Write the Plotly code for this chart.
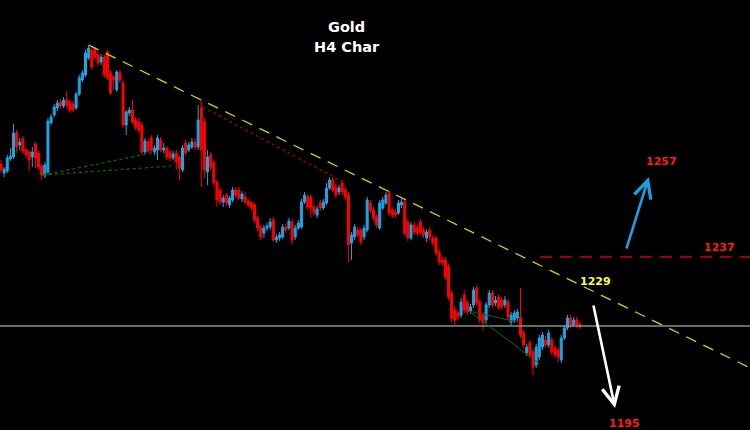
import plotly.graph_objects as go

# ---------------- data (Gold, H4) ----------------
opens = [
1260.25, 1258.0, 1258.5, 1261.5, 1262.0, 1268.0, 1265.0, 1266.5, 1263.75, 1263.25,
1262.0, 1265.25, 1263.0, 1259.75, 1257.25, 1258.25, 1270.5, 1272.5, 1274.25, 1275.75,
1274.75, 1276.25, 1275.75, 1275.25, 1274.25, 1277.75, 1281.25, 1282.5, 1286.75, 1288.75,
1289.0, 1287.5, 1285.75, 1287.0, 1288.25, 1283.0, 1282.0, 1278.75, 1283.0, 1280.5,
1270.0, 1273.0, 1273.75, 1271.25, 1270.75, 1270.0, 1263.25, 1265.75, 1266.75, 1263.25,
1263.75, 1266.25, 1263.75, 1264.25, 1263.25, 1261.75, 1263.0, 1262.0, 1258.75, 1265.5,
1263.75, 1264.5, 1265.75, 1264.5, 1274.25, 1270.75, 1258.25, 1262.5, 1260.5, 1255.75,
1253.75, 1250.75, 1252.5, 1250.0, 1251.25, 1253.75, 1253.75, 1251.5, 1252.0, 1251.0,
1250.5, 1250.0, 1246.75, 1244.5, 1243.0, 1244.25, 1244.5, 1246.25, 1241.25, 1241.75,
1242.0, 1244.5, 1244.25, 1245.75, 1242.0, 1244.25, 1244.5, 1250.75, 1252.0, 1252.0,
1249.5, 1247.5, 1250.5, 1249.25, 1250.5, 1254.25, 1256.25, 1254.5, 1253.25, 1255.5,
1253.75, 1252.5, 1240.5, 1242.0, 1243.75, 1243.75, 1242.0, 1243.75, 1250.5, 1248.75,
1247.0, 1244.25, 1249.25, 1250.5, 1253.0, 1248.75, 1248.25, 1248.0, 1250.0, 1250.75,
1245.75, 1241.75, 1245.0, 1244.25, 1245.75, 1243.75, 1241.75, 1243.75, 1241.75, 1241.75,
1238.25, 1236.25, 1236.25, 1234.5, 1228.0, 1223.75, 1223.0, 1222.5, 1227.5, 1225.5,
1223.5, 1225.0, 1229.25, 1225.75, 1222.5, 1221.25, 1225.0, 1228.0, 1225.5, 1227.0,
1226.25, 1225.0, 1225.75, 1220.75, 1221.25, 1221.75, 1222.0, 1218.0, 1213.0, 1215.5,
1213.25, 1210.0, 1212.0, 1214.5, 1216.25, 1215.0, 1216.25, 1214.25, 1213.75, 1211.25,
1216.75, 1219.25, 1221.75, 1220.0, 1221.25, 1220.25,
]
highs = [
1261.25, 1259.5, 1262.5, 1264.25, 1270.25, 1268.75, 1266.75, 1267.25, 1264.25, 1263.75,
1264.5, 1265.75, 1263.5, 1260.25, 1260.75, 1271.75, 1272.75, 1275.25, 1276.25, 1276.5,
1277.0, 1278.5, 1276.25, 1276.0, 1278.25, 1282.5, 1283.75, 1288.75, 1290.0, 1289.5,
1289.5, 1288.25, 1287.75, 1287.5, 1288.75, 1283.75, 1282.5, 1283.75, 1283.75, 1281.25,
1273.75, 1274.5, 1276.25, 1272.0, 1271.75, 1270.75, 1266.75, 1266.5, 1267.5, 1265.0,
1267.5, 1267.0, 1265.5, 1264.75, 1263.75, 1263.5, 1263.75, 1262.5, 1265.0, 1266.25,
1265.75, 1266.75, 1266.5, 1275.0, 1276.25, 1271.75, 1263.75, 1263.25, 1261.25, 1256.25,
1254.5, 1252.5, 1253.0, 1252.25, 1254.5, 1254.25, 1254.5, 1253.5, 1253.25, 1251.5,
1251.0, 1250.5, 1247.25, 1245.0, 1245.0, 1245.5, 1246.75, 1247.0, 1242.75, 1243.25,
1245.25, 1245.25, 1246.75, 1246.5, 1245.0, 1246.25, 1251.5, 1253.25, 1252.75, 1252.5,
1250.0, 1249.75, 1251.25, 1251.5, 1255.5, 1257.0, 1257.0, 1255.25, 1255.0, 1256.25,
1254.5, 1253.25, 1243.25, 1245.25, 1244.5, 1244.25, 1245.0, 1252.0, 1251.25, 1249.5,
1247.75, 1251.25, 1252.0, 1253.25, 1253.75, 1249.5, 1249.0, 1251.25, 1251.5, 1251.5,
1246.5, 1245.75, 1245.75, 1245.0, 1246.5, 1244.5, 1244.0, 1244.5, 1242.5, 1242.25,
1239.0, 1237.0, 1237.0, 1235.25, 1228.75, 1224.75, 1223.75, 1226.75, 1228.75, 1226.25,
1225.25, 1229.5, 1230.0, 1226.5, 1223.25, 1225.75, 1228.75, 1228.75, 1227.25, 1227.75,
1227.0, 1227.25, 1226.5, 1223.25, 1223.75, 1224.0, 1229.25, 1218.75, 1215.25, 1216.25,
1214.0, 1215.25, 1217.5, 1218.25, 1217.25, 1218.75, 1217.0, 1215.0, 1214.5, 1217.5,
1220.0, 1222.5, 1222.5, 1222.0, 1222.0, 1220.75,
]
lows = [
1258.0, 1257.0, 1258.0, 1261.0, 1261.5, 1263.0, 1263.75, 1262.75, 1261.75, 1258.5,
1259.5, 1259.25, 1258.75, 1256.25, 1256.75, 1257.75, 1270.0, 1272.0, 1273.5, 1274.0,
1274.25, 1274.25, 1273.0, 1273.25, 1273.75, 1277.25, 1280.75, 1282.0, 1286.25, 1283.75,
1286.25, 1284.75, 1285.0, 1281.75, 1281.25, 1277.5, 1278.75, 1278.25, 1280.5, 1269.25,
1267.5, 1272.25, 1270.25, 1268.75, 1268.0, 1262.5, 1262.75, 1263.0, 1263.0, 1262.5,
1261.25, 1263.25, 1263.0, 1261.25, 1261.0, 1261.25, 1258.75, 1256.25, 1258.25, 1262.25,
1263.25, 1264.0, 1263.75, 1263.75, 1254.5, 1256.75, 1255.0, 1258.75, 1254.75, 1249.5,
1250.0, 1249.5, 1249.75, 1249.25, 1250.75, 1251.75, 1251.25, 1250.75, 1250.25, 1249.5,
1248.75, 1245.5, 1243.5, 1241.25, 1241.75, 1243.5, 1243.75, 1240.75, 1240.5, 1241.0,
1241.5, 1243.0, 1243.75, 1240.0, 1241.25, 1243.75, 1244.0, 1250.25, 1248.75, 1247.0,
1247.25, 1246.75, 1248.5, 1248.75, 1250.0, 1253.75, 1253.25, 1251.75, 1252.5, 1252.5,
1251.25, 1235.75, 1236.25, 1241.25, 1241.75, 1240.0, 1241.25, 1243.25, 1248.0, 1246.0,
1244.25, 1243.75, 1248.75, 1250.0, 1247.25, 1246.75, 1246.75, 1247.5, 1249.25, 1242.25,
1241.0, 1241.25, 1242.5, 1242.25, 1242.5, 1241.75, 1240.75, 1241.25, 1239.75, 1237.25,
1235.0, 1234.75, 1231.25, 1226.25, 1220.75, 1220.0, 1221.25, 1221.75, 1223.0, 1222.5,
1222.75, 1224.25, 1224.75, 1220.5, 1218.75, 1220.5, 1224.25, 1224.25, 1224.75, 1223.75,
1223.75, 1224.25, 1221.25, 1220.0, 1220.5, 1221.0, 1216.75, 1214.25, 1212.25, 1211.75,
1207.5, 1209.25, 1211.25, 1213.75, 1214.25, 1214.25, 1212.5, 1211.75, 1210.75, 1210.5,
1216.25, 1218.75, 1219.25, 1219.5, 1219.25, 1219.0,
]
closes = [
1258.75, 1259.0, 1261.75, 1262.25, 1268.0, 1264.5, 1265.75, 1263.5, 1262.5, 1261.25,
1263.25, 1261.75, 1259.5, 1257.5, 1260.0, 1271.0, 1272.0, 1274.5, 1275.5, 1274.75,
1276.25, 1275.0, 1273.75, 1273.75, 1277.75, 1281.75, 1283.0, 1288.0, 1289.25, 1284.5,
1287.0, 1285.5, 1287.0, 1282.5, 1282.0, 1278.0, 1281.25, 1283.25, 1281.25, 1270.0,
1273.25, 1273.75, 1270.75, 1269.5, 1268.75, 1263.25, 1266.0, 1263.5, 1263.75, 1264.25,
1266.75, 1263.75, 1264.25, 1262.0, 1261.75, 1262.75, 1260.75, 1259.25, 1264.25, 1263.0,
1265.0, 1265.75, 1264.5, 1271.25, 1263.75, 1258.75, 1262.0, 1259.5, 1255.5, 1251.25,
1250.75, 1251.75, 1250.5, 1251.75, 1253.75, 1252.5, 1251.75, 1252.75, 1250.75, 1250.0,
1249.25, 1246.25, 1244.25, 1242.0, 1244.25, 1244.75, 1245.75, 1241.25, 1242.0, 1242.5,
1244.5, 1243.75, 1246.0, 1241.25, 1244.25, 1245.5, 1250.75, 1252.5, 1249.5, 1249.25,
1248.0, 1249.0, 1249.25, 1250.75, 1254.25, 1256.25, 1253.75, 1252.5, 1254.25, 1253.25,
1252.0, 1240.0, 1242.5, 1244.5, 1242.5, 1240.75, 1244.25, 1251.25, 1248.75, 1246.75,
1245.0, 1250.5, 1251.25, 1252.5, 1248.0, 1247.5, 1247.5, 1250.5, 1250.75, 1243.0,
1241.75, 1245.0, 1243.25, 1243.0, 1243.25, 1242.5, 1243.25, 1242.0, 1240.5, 1238.0,
1235.75, 1235.5, 1232.0, 1227.0, 1221.75, 1221.25, 1222.0, 1225.75, 1223.75, 1223.25,
1224.5, 1228.75, 1225.5, 1221.25, 1220.5, 1225.0, 1228.0, 1225.0, 1226.25, 1224.5,
1224.5, 1226.25, 1222.0, 1222.5, 1223.0, 1223.25, 1217.5, 1215.0, 1214.5, 1212.5,
1209.5, 1214.5, 1216.75, 1217.5, 1215.0, 1218.0, 1213.25, 1212.5, 1212.0, 1216.75,
1219.25, 1221.75, 1220.0, 1221.25, 1220.0, 1219.5,
]
bars = list(range(len(closes)))

# drawn objects (bar index, price)
trend_anchor_bars = [28, 64]            # yellow resistance line anchors (candle highs)
red_dotted_x = [64.5, 109.9]
red_dotted_y = [1274.5, 1255.5]
green_dot_start = (13.4, 1257.5)
green_dot_ends = [(49.8, 1263.25), (54.6, 1259.75)]
green_solid_start = (149.5, 1223.5)
green_solid_ends = [(164.9, 1220.75), (172.2, 1210.25)]
current_price = 1219.75
level_1237 = 1237.0
level_1237_start = 172.2
up_arrow = {"tail": (199.7, 1238.75), "tip": (207.0, 1257.0)}
down_arrow = {"tail": (189.2, 1225.25), "tip": (196.2, 1199.25)}
labels = [
    ("1257", 210.9, 1261.0, "#ff1a1a"),
    ("1237", 229.7, 1239.5, "#ff1a1a"),
    ("1229", 189.8, 1231.0, "#ffff33"),
    ("1195", 199.1, 1195.5, "#ff1a1a"),
]

X_RANGE = [-0.32, 239.32]
Y_RANGE = [1193.75, 1301.25]

BLUE = "#1ea4e6"
RED = "#ff0000"

fig = go.Figure()
fig.add_trace(go.Candlestick(
    x=bars, open=opens, high=highs, low=lows, close=closes,
    increasing=dict(line=dict(color=BLUE, width=1), fillcolor=BLUE),
    decreasing=dict(line=dict(color=RED, width=1), fillcolor=RED),
    whiskerwidth=0, hoverinfo="skip",
))

shapes = []
# grey current price line
shapes.append(dict(type="line", xref="paper", x0=0, x1=1, yref="y",
                   y0=current_price, y1=current_price,
                   line=dict(color="#8c8c8c", width=1.5)))
# yellow trend line
b0, b1 = trend_anchor_bars
slope = (highs[b1] - highs[b0]) / (b1 - b0)
y_end = highs[b0] + slope * (X_RANGE[1] - b0)
shapes.append(dict(type="line", x0=b0, y0=highs[b0], x1=X_RANGE[1], y1=y_end,
                   line=dict(color="#d2d200", width=1.3, dash="11px,8px")))
# red dotted
shapes.append(dict(type="line", x0=red_dotted_x[0], y0=red_dotted_y[0],
                   x1=red_dotted_x[1], y1=red_dotted_y[1],
                   line=dict(color="#a00000", width=1.3, dash="3px,3px")))
# green dotted
for ex, ey in green_dot_ends:
    shapes.append(dict(type="line", x0=green_dot_start[0], y0=green_dot_start[1],
                       x1=ex, y1=ey, line=dict(color="#007000", width=1.2, dash="3px,3px")))
# green solid
for ex, ey in green_solid_ends:
    shapes.append(dict(type="line", x0=green_solid_start[0], y0=green_solid_start[1],
                       x1=ex, y1=ey, line=dict(color="#0a6a0a", width=1)))
# red dashed level
shapes.append(dict(type="line", x0=level_1237_start, x1=X_RANGE[1],
                   y0=level_1237, y1=level_1237,
                   line=dict(color="#d00000", width=1.3, dash="12px,8px")))

annotations = []
annotations.append(dict(text="Gold", xref="paper", yref="paper", x=0.462, y=1 - 17 / 430,
                        showarrow=False, font=dict(family="DejaVu Sans", size=14.5,
                                                   color="white", weight="bold")))
annotations.append(dict(text="H4 Char", xref="paper", yref="paper", x=0.463, y=1 - 37 / 430,
                        showarrow=False, font=dict(family="DejaVu Sans", size=14.5,
                                                   color="white", weight="bold")))
for txt, bx, py, col in labels:
    annotations.append(dict(text=txt, x=bx, y=py, showarrow=False,
                            font=dict(family="DejaVu Sans", size=11, color=col,
                                      weight="bold")))
for arr, col in [(up_arrow, "#1a9fe0"), (down_arrow, "#ffffff")]:
    annotations.append(dict(x=arr["tip"][0], y=arr["tip"][1], ax=arr["tail"][0],
                            ay=arr["tail"][1], axref="x", ayref="y", text="",
                            showarrow=True, arrowhead=5, arrowsize=1.3,
                            arrowwidth=2.6, arrowcolor=col, standoff=0, startstandoff=0))

fig.update_layout(
    width=750, height=430,
    margin=dict(l=0, r=0, t=0, b=0),
    paper_bgcolor="black", plot_bgcolor="black",
    showlegend=False,
    boxgap=0.2, boxgroupgap=0.2,
    shapes=shapes, annotations=annotations,
    xaxis=dict(range=X_RANGE, visible=False, rangeslider=dict(visible=False),
               showgrid=False, zeroline=False),
    yaxis=dict(range=Y_RANGE, visible=False, showgrid=False, zeroline=False),
)

fig.write_html(
    "out.html",
    config={"displayModeBar": False},
    post_script="document.body.style.margin='0px';document.body.style.background='black';"
                "document.body.style.overflow='hidden';",
)
